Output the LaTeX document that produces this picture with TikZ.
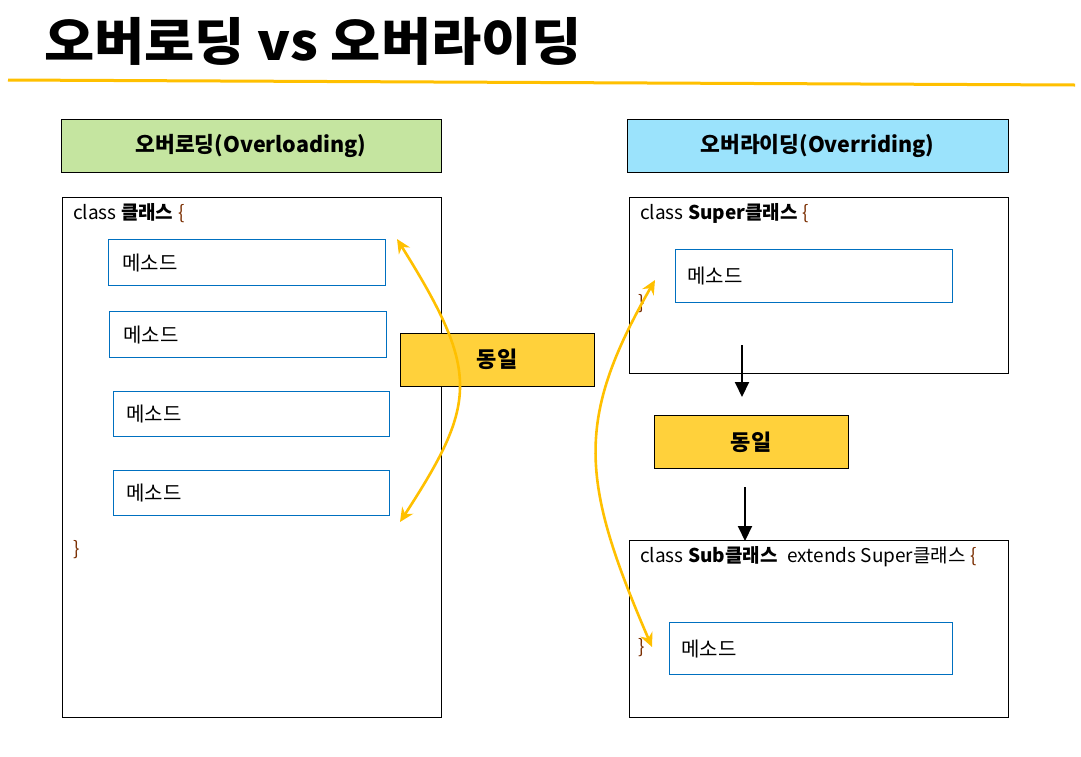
\documentclass[tikz,border=0pt]{standalone}
\usepackage{fontspec}
\setmainfont{Noto Sans CJK KR}
\usetikzlibrary{arrows.meta,calc}
\definecolor{ygold}{HTML}{FFC000}
\definecolor{hgreen}{HTML}{C5E5A0}
\definecolor{hblue}{HTML}{9BE3FC}
\definecolor{samefill}{HTML}{FFD13B}
\definecolor{mblue}{HTML}{0070C0}
\definecolor{brace}{HTML}{7A2E00}
\tikzset{
  x=1pt,y=-1pt,
  headbox/.style={draw=black,line width=0.9pt,minimum width=380pt,minimum height=53pt,font=\fontsize{21.5}{26}\selectfont\bfseries},
  classbox/.style={draw=black,line width=0.9pt},
  methbox/.style={draw=mblue,line width=1.1pt,minimum height=46pt,align=left,inner sep=0pt,font=\fontsize{20}{24}\selectfont},
  samebox/.style={draw=black,fill=samefill,line width=0.9pt,minimum width=194pt,minimum height=53pt,font=\fontsize{22}{26}\selectfont\bfseries},
  codetext/.style={anchor=west,inner sep=0pt,font=\fontsize{19}{23}\selectfont},
  yarrow/.style={draw=ygold,line width=2.6pt,{Stealth[length=14pt,width=13pt]}-{Stealth[length=14pt,width=13pt]}},
  barrow/.style={draw=black,line width=2pt,-{Triangle[length=15pt,width=14pt]}},
}
\newcommand{\br}[1]{\textcolor{brace}{#1}}
\begin{document}
\begin{tikzpicture}
\useasboundingbox (0,0) rectangle (1081,756);
\fill[white] (0,0) rectangle (1081,756);
% title
\node[anchor=west,inner sep=0pt,font=\fontsize{51}{60}\selectfont\bfseries] (title) at (44,41) {\scalebox{1.07}[1]{오버로딩 vs 오버라이딩}};
\coordinate (rl) at (8,80);
\coordinate (rr) at (1075,85);
\draw[ygold,line width=3pt] (rl) -- (rr);
% headers
\node[headbox,fill=hgreen,minimum width=380pt] (hl) at (251,146) {오버로딩(Overloading)};
\node[headbox,fill=hblue,minimum width=381pt] (hr) at (817.5,146) {오버라이딩(Overriding)};
% left class box
\draw[classbox] (62,197) rectangle (441,717);
\node[codetext] (lc) at (73,213) {class \textbf{클래스}\hspace{5pt}\br{\{}};
\node[methbox,minimum width=277pt,anchor=north west,text width=277pt] (m1) at (108,239) {\hspace*{14pt}메소드};
\node[methbox,minimum width=277pt,anchor=north west,text width=277pt] (m2) at (109,311) {\hspace*{14pt}메소드};
\node[methbox,minimum width=276pt,anchor=north west,minimum height=45pt,text width=276pt] (m3) at (113,391) {\hspace*{13pt}메소드};
\node[methbox,minimum width=276pt,anchor=north west,minimum height=45pt,text width=276pt] (m4) at (113,470) {\hspace*{13pt}메소드};
\node[codetext] (lcb) at (73,550) {\br{\}}};
% left same
\node[samebox] (s1) at (497,359.5) {동일};
% left yellow arrow
\coordinate (la) at (397,239);
\coordinate (lb) at (400,522);
\draw[yarrow] (la) .. controls (480,372) and (478,402) .. (lb);
% right super box
\draw[classbox] (629,197) rectangle (1008,373);
\node[codetext] (sc) at (640,213) {class \textbf{Super클래스}\hspace{5pt}\br{\{}};
\node[methbox,minimum width=277pt,minimum height=53pt,anchor=north west,text width=277pt] (m5) at (675,249) {\hspace*{12pt}메소드};
\node[codetext] (scb) at (638,304) {\br{\}}};
% same 2
\node[samebox] (s2) at (751,442) {동일};
\coordinate (a1s) at (742,345);
\coordinate (a1e) at (742,397);
\draw[barrow] (a1s) -- (a1e);
\coordinate (a2s) at (745,487);
\coordinate (a2e) at (745,541);
\draw[barrow] (a2s) -- (a2e);
% sub box
\draw[classbox] (629,540) rectangle (1008,717);
\node[codetext] (bc) at (640,557) {class \textbf{Sub클래스}\hspace{10pt}extends Super클래스\hspace{5pt}\br{\{}};
\node[methbox,minimum width=283pt,minimum height=52pt,anchor=north west,text width=283pt] (m6) at (669,622) {\hspace*{12pt}메소드};
\node[codetext] (bcb) at (638,648) {\br{\}}};
% right yellow arrow
\coordinate (ra) at (655,280);
\coordinate (rb) at (652,647);
\draw[yarrow] (ra) .. controls (575,420) and (580,480) .. (rb);
\end{tikzpicture}
\end{document}
